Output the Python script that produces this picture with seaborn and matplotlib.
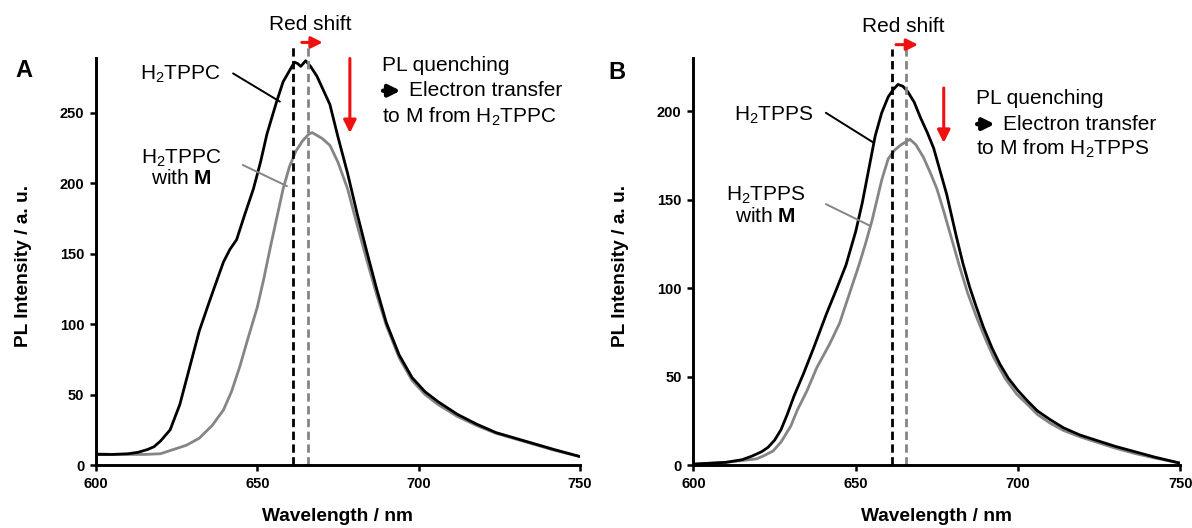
import numpy as np
import pandas as pd
import seaborn as sns
import matplotlib.pyplot as plt

# Panel A : H2TPPC
wl_a_black = [600, 605, 610, 613, 616, 618, 620, 623, 626, 629, 632, 635, 637, 639.5, 641.5, 643.6, 646,
              648.8, 651, 653, 656, 658, 660, 661.5, 662.5, 663.5, 665, 666.5, 668.5, 670.5, 672.5,
              675, 678, 681, 684, 687, 690, 694, 698, 702, 706, 712, 718, 724, 730, 736, 742, 750]
pl_a_black = [7.5, 7.5, 8, 9, 11, 13, 17, 25, 43, 69, 95, 115, 128, 144, 153, 160, 177,
              196, 215, 235, 258, 272, 280, 286, 285, 283, 287, 283, 276, 266, 256,
              233, 207, 178, 151, 125, 101, 78, 62, 52, 45, 36, 29, 23, 19, 15, 11, 6]
wl_a_gray = [600, 605, 610, 615, 620, 624, 628, 632, 636, 639.5, 642, 644.6, 647, 650, 652, 654, 656,
             658, 660, 662, 664, 666, 667, 668.5, 670, 672.5, 675, 678, 681, 684, 687, 690, 694, 698,
             702, 706, 712, 718, 724, 730, 736, 742, 750]
pl_a_gray = [8, 7.5, 7.5, 7.5, 8, 11, 14, 19, 28, 39, 52, 70, 89, 112, 132, 154, 175,
             196, 212, 223, 230, 235, 236, 234, 232, 227, 215, 196, 170, 145, 121, 99, 76, 60,
             50, 43, 34.5, 28, 22.5, 18.5, 14.5, 10.5, 6]

# Panel B : H2TPPS
wl_b_black = [600, 605, 610, 615, 618, 621, 623, 625, 627, 629, 631, 634, 637, 641, 644, 647, 650, 652,
              654, 656, 658, 660, 661.5, 663, 664.5, 666, 668, 670, 672, 674, 676, 678, 681, 683, 685,
              687, 689.3, 692, 694.4, 697, 700, 703, 706, 710, 714, 719, 724, 730, 736, 742, 750]
pl_b_black = [0.5, 1, 1.5, 3, 5, 7.5, 10, 14, 20, 29, 39, 52, 66, 85.5, 99, 113, 132, 148,
              167, 186, 199, 208, 212, 215, 214, 211, 205, 196, 188, 179, 166, 153, 129, 114, 101,
              90, 78, 66, 57, 49, 42, 36, 30.5, 25.5, 21, 17, 14, 10.5, 7.5, 4.5, 1]
wl_b_gray = [600, 605, 610, 615, 619.5, 622, 624.6, 627, 630, 632, 635, 638, 642, 645, 647, 649, 651,
             653, 655, 658, 660, 662, 664, 666.7, 668.5, 670.8, 673, 675, 677, 679.5, 682, 684.5,
             687.2, 690, 692.4, 696, 699.6, 703, 706, 710, 714, 719, 724, 730, 736, 742, 750]
pl_b_gray = [0.5, 1, 1.5, 2.5, 3.5, 5.5, 8, 13, 22, 31, 42, 55, 68.5, 80, 91, 102, 113,
             125, 138, 161, 173, 178, 181, 184, 181, 174, 165, 156, 144, 128, 112, 97,
             83.6, 71, 61, 49, 40, 34, 28.5, 23.5, 19.5, 16, 13, 9.5, 6.5, 4, 1]

# peak positions (dashed lines) and axis settings
peaks_a = [661.0, 665.6]
peaks_b = [661.3, 665.6]
xticks = [600, 650, 700, 750]
yticks_a = [0, 50, 100, 150, 200, 250]
yticks_b = [0, 50, 100, 150, 200]

sns.set_theme(style="ticks")
plt.rcParams['font.family'] = ['Liberation Sans', 'DejaVu Sans']
plt.rcParams['mathtext.fontset'] = 'custom'
plt.rcParams['mathtext.rm'] = 'Liberation Sans'
plt.rcParams['mathtext.it'] = 'Liberation Sans:italic'
plt.rcParams['mathtext.bf'] = 'Liberation Sans:bold'
plt.rcParams['text.color'] = 'black'
plt.rcParams['axes.labelcolor'] = 'black'

BLACK = '#000000'
GRAY = '#858585'
RED = '#ee1111'
FS = 15

fig = plt.figure(figsize=(11.92, 5.28), dpi=100)
ax_a = fig.add_axes([0.0805, 0.1193, 0.406, 0.771])
ax_b = fig.add_axes([0.5817, 0.1193, 0.4086, 0.771])

panels = [
    dict(ax=ax_a, wk=wl_a_black, k=pl_a_black, wg=wl_a_gray, g=pl_a_gray, peaks=peaks_a,
         ymax=289, yticks=yticks_a, name='H$_2$TPPC', letter='A', letter_xy=(0.020, 0.867),
         dash_top=298, shift=(663.8, 670.3, 300), shift_text=(666.3, 313),
         down=(678.7, 288.6, 235.7), txt_x=688.6, txt_y=[283.6, 265.7, 247.0],
         lab_k=(638.7, 277), lead_k=((642.5, 278), (657, 258)),
         lab_g=(626.5, 211), lead_g=((645.5, 213), (659.2, 198))),
    dict(ax=ax_b, wk=wl_b_black, k=pl_b_black, wg=wl_b_gray, g=pl_b_gray, peaks=peaks_b,
         ymax=230, yticks=yticks_b, name='H$_2$TPPS', letter='B', letter_xy=(0.5176, 0.862),
         dash_top=235, shift=(662.4, 669.2, 237.5), shift_text=(664.7, 248),
         down=(677.1, 213, 182), txt_x=687, txt_y=[206.8, 192.6, 178.5],
         lab_k=(637.1, 197.7), lead_k=((640.8, 199), (655.6, 182)),
         lab_g=(622.2, 146.5), lead_g=((640.8, 147.4), (654.6, 135))),
]

for p in panels:
    ax = p['ax']
    sns.lineplot(x=p['wg'], y=p['g'], ax=ax, color=GRAY, linewidth=2.0, sort=False)
    sns.lineplot(x=p['wk'], y=p['k'], ax=ax, color=BLACK, linewidth=2.0, sort=False)

    # dashed peak markers
    for xp, col in zip(p['peaks'], [BLACK, GRAY]):
        ax.plot([xp, xp], [0, p['dash_top']], ls=(0, (3, 1.6)), color=col, lw=2.0, clip_on=False)

    ax.set_xlim(600, 750)
    ax.set_ylim(0, p['ymax'])
    ax.set_xticks(xticks, labels=[str(t) for t in xticks], fontweight='bold', fontsize=10.5)
    ax.set_yticks(p['yticks'], labels=[str(t) for t in p['yticks']], fontweight='bold', fontsize=10.5)
    ax.tick_params(axis='both', direction='out', length=4.5, width=1.8, pad=4,
                   colors='black', labelcolor='black')
    for s in ['top', 'right']:
        ax.spines[s].set_visible(False)
    for s in ['left', 'bottom']:
        ax.spines[s].set_linewidth(2.1)
        ax.spines[s].set_color('black')

    ax.set_xlabel('Wavelength / nm', fontsize=13.8, fontweight='bold', color='black')
    ax.set_ylabel('PL Intensity / a. u.', fontsize=13.8, fontweight='bold', color='black')
    ax.xaxis.set_label_coords(0.5, -0.105)
    ax.yaxis.set_label_coords(-0.132, 0.49)

    # red shift arrow and text
    x0, x1, ys = p['shift']
    ax.annotate('', xy=(x1, ys), xytext=(x0, ys), annotation_clip=False,
                arrowprops=dict(arrowstyle='-|>', color=RED, lw=2.2, mutation_scale=17,
                                shrinkA=0, shrinkB=0))
    ax.text(p['shift_text'][0], p['shift_text'][1], 'Red shift', ha='center', va='center',
            fontsize=FS, clip_on=False)

    # PL quenching arrow and explanation
    xd, yd0, yd1 = p['down']
    ax.annotate('', xy=(xd, yd1), xytext=(xd, yd0), annotation_clip=False,
                arrowprops=dict(arrowstyle='-|>', color=RED, lw=2.2, mutation_scale=19,
                                shrinkA=0, shrinkB=0))
    ty = p['txt_y']
    tx = p['txt_x']
    ax.text(tx, ty[0], 'PL quenching', ha='left', va='center', fontsize=FS)
    # heavy black arrow in front of "Electron transfer"
    ax.annotate('', xy=(tx + 5.8, ty[1]), xytext=(tx + 0.4, ty[1]), annotation_clip=False,
                arrowprops=dict(arrowstyle='-|>', color=BLACK, lw=3.2, mutation_scale=17,
                                shrinkA=0, shrinkB=0))
    ax.text(tx + 8.4, ty[1], 'Electron transfer', ha='left', va='center', fontsize=FS)
    ax.text(tx, ty[2], 'to M from ' + p['name'], ha='left', va='center', fontsize=FS)

    # curve labels with leader lines
    ax.text(p['lab_k'][0], p['lab_k'][1], p['name'], ha='right', va='center', fontsize=FS)
    (a0, a1), (b0, b1) = p['lead_k']
    ax.annotate('', xy=(b0, b1), xytext=(a0, a1),
                arrowprops=dict(arrowstyle='-', color=BLACK, lw=1.4, shrinkA=0, shrinkB=0))
    ax.text(p['lab_g'][0], p['lab_g'][1], p['name'] + '\nwith $\\mathbf{M}$', ha='center',
            va='center', fontsize=FS, linespacing=1.05)
    (a0, a1), (b0, b1) = p['lead_g']
    ax.annotate('', xy=(b0, b1), xytext=(a0, a1),
                arrowprops=dict(arrowstyle='-', color=GRAY, lw=1.4, shrinkA=0, shrinkB=0))

    fig.text(p['letter_xy'][0], p['letter_xy'][1], p['letter'], fontsize=17, fontweight='bold',
             ha='center', va='center')

fig.savefig('out.png', dpi=100)
